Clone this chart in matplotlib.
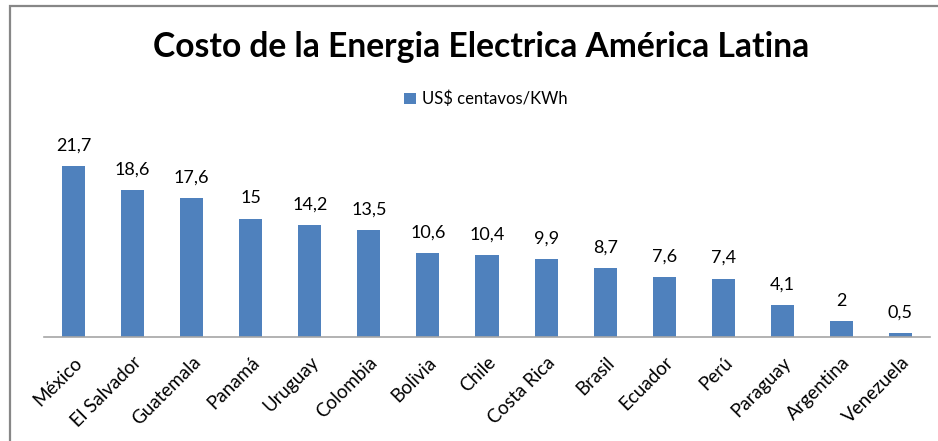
import matplotlib
matplotlib.use("Agg")
import matplotlib.pyplot as plt
from matplotlib.patches import Rectangle

# datos
paises = ["México", "El Salvador", "Guatemala", "Panamá", "Uruguay", "Colombia",
          "Bolivia", "Chile", "Costa Rica", "Brasil", "Ecuador", "Perú",
          "Paraguay", "Argentina", "Venezuela"]
costo = [21.7, 18.6, 17.6, 15, 14.2, 13.5, 10.6, 10.4, 9.9, 8.7, 7.6, 7.4, 4.1, 2, 0.5]
serie = "US$ centavos/KWh"
titulo = "Costo de la Energia Electrica América Latina"

plt.rcParams['font.family'] = ['Lato', 'DejaVu Sans']

fig = plt.figure(figsize=(9.38, 4.41), dpi=100)
ax = fig.add_axes([0.0469, 0.2358, 0.9446, 0.4297])

x = list(range(len(paises)))
barras = ax.bar(x, costo, width=0.39, color="#4F81BD", label=serie)

for xi, v in zip(x, costo):
    txt = ("%g" % v).replace(".", ",")
    ax.annotate(txt, (xi, v), xytext=(0, 9), textcoords="offset points",
                ha="center", va="bottom", fontsize=13, color="#000000")

ax.set_xlim(-0.5, len(paises) - 0.5)
ax.set_ylim(0, 24)
ax.set_xticks(x)
ax.set_xticklabels(paises, rotation=45, ha="right", rotation_mode="anchor",
                   fontsize=13.5)
ax.tick_params(axis="x", length=0, pad=12)
ax.set_yticks([])
for s in ["top", "right", "left"]:
    ax.spines[s].set_visible(False)
ax.spines["bottom"].set_color("#A6A6A6")
ax.spines["bottom"].set_linewidth(1.2)

fig.text(0.513, 0.893, titulo, ha="center", va="center",
         fontsize=24.2, fontweight="bold")
fig.legend(handles=[barras], labels=[serie], loc="center",
           bbox_to_anchor=(0.518, 0.7755), frameon=False, fontsize=12,
           handlelength=0.7, handleheight=0.7, handletextpad=0.4)

# marco del grafico
fig.patches.append(Rectangle((10 / 938, -0.1), 1.2, 1 - 5.5 / 441 + 0.1,
                             transform=fig.transFigure, fill=False,
                             edgecolor="#878787", linewidth=1.6))

fig.savefig("out.png", dpi=100)
